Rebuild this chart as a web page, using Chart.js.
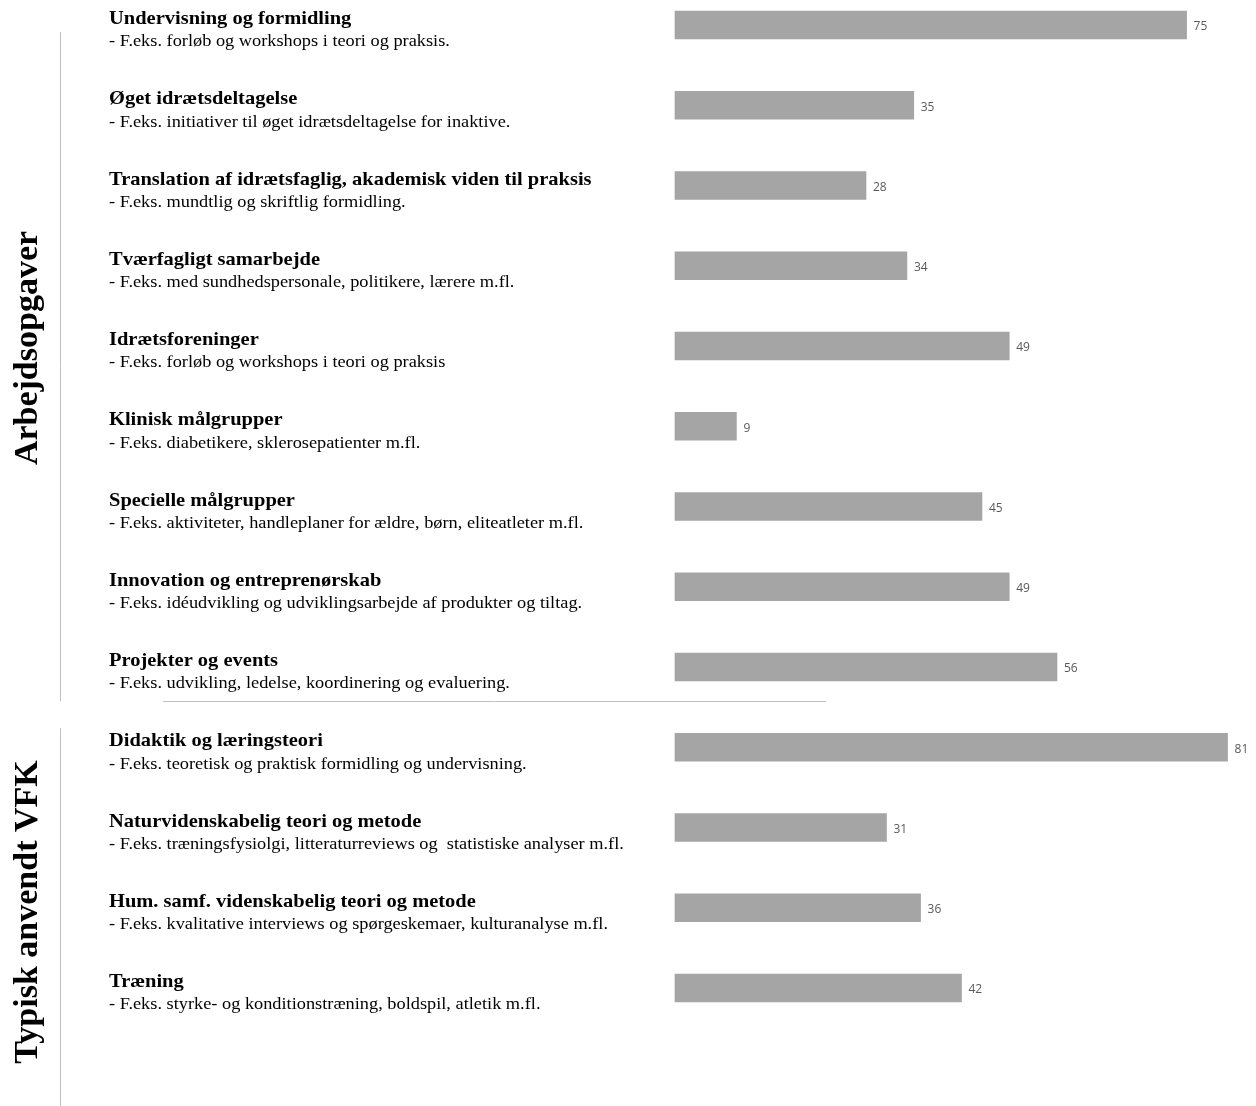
<!DOCTYPE html>
<html>
<head>
<meta charset="utf-8">
<script src="https://cdn.jsdelivr.net/npm/chart.js@4.4.1/dist/chart.umd.min.js"></script>
<style>
  body { margin: 0; background: #fff; }
</style>
</head>
<body>
<canvas id="chart" width="1256" height="1106"></canvas>
<script>
var titles = [
  'Undervisning og formidling',
  'Øget idrætsdeltagelse',
  'Translation af idrætsfaglig, akademisk viden til praksis',
  'Tværfagligt samarbejde',
  'Idrætsforeninger',
  'Klinisk målgrupper',
  'Specielle målgrupper',
  'Innovation og entreprenørskab',
  'Projekter og events',
  'Didaktik og læringsteori',
  'Naturvidenskabelig teori og metode',
  'Hum. samf. videnskabelig teori og metode',
  'Træning'
];
var subtitles = [
  '- F.eks. forløb og workshops i teori og praksis.',
  '- F.eks. initiativer til øget idrætsdeltagelse for inaktive.',
  '- F.eks. mundtlig og skriftlig formidling.',
  '- F.eks. med sundhedspersonale, politikere, lærere m.fl.',
  '- F.eks. forløb og workshops i teori og praksis',
  '- F.eks. diabetikere, sklerosepatienter m.fl.',
  '- F.eks. aktiviteter, handleplaner for ældre, børn, eliteatleter m.fl.',
  '- F.eks. idéudvikling og udviklingsarbejde af produkter og tiltag.',
  '- F.eks. udvikling, ledelse, koordinering og evaluering.',
  '- F.eks. teoretisk og praktisk formidling og undervisning.',
  '- F.eks. træningsfysiolgi, litteraturreviews og  statistiske analyser m.fl.',
  '- F.eks. kvalitative interviews og spørgeskemaer, kulturanalyse m.fl.',
  '- F.eks. styrke- og konditionstræning, boldspil, atletik m.fl.'
];
var counts = [75, 35, 28, 34, 49, 9, 45, 49, 56, 81, 31, 36, 42];
var groups = ['Arbejdsopgaver', 'Typisk anvendt VFK'];
var groupSizes = [9, 4];

// text drawn a bit wider than the font, like the original picture
function wideText(ctx, text, x, y, sx) {
  ctx.save();
  ctx.translate(x, y);
  ctx.scale(sx, 1);
  ctx.fillText(text, 0, 0);
  ctx.restore();
}

// labels, value tags, group names and divider lines
var decorations = {
  id: 'decorations',
  afterDatasetsDraw: function(chart) {
    var ctx = chart.ctx;
    var y = chart.scales.y;
    var meta = chart.getDatasetMeta(0);
    ctx.save();

    titles.forEach(function(t, i) {
      var c = y.getPixelForValue(i);
      ctx.fillStyle = '#000';
      ctx.textAlign = 'left';
      ctx.textBaseline = 'middle';
      ctx.font = 'bold 19.5px "Liberation Serif"';
      wideText(ctx, t, 109, c - 6, 1.05);
      ctx.font = '16.5px "Liberation Serif"';
      wideText(ctx, subtitles[i], 109, c + 17, 1.11);

      var bar = meta.data[i];
      ctx.font = '12px "Open Sans"';
      ctx.fillStyle = '#595959';
      ctx.fillText(String(counts[i]), bar.x + 7, c + 2);
    });

    var last1 = groupSizes[0] - 1;
    var sep = (y.getPixelForValue(last1) + y.getPixelForValue(last1 + 1)) / 2 - 6;
    var top1 = y.getPixelForValue(0) + 7;
    var top2 = sep + 27;
    var bottom = chart.height;

    ctx.strokeStyle = '#bfbfbf';
    ctx.lineWidth = 1;
    ctx.beginPath();
    ctx.moveTo(60.5, top1); ctx.lineTo(60.5, sep);
    ctx.moveTo(60.5, top2); ctx.lineTo(60.5, bottom);
    ctx.moveTo(163, Math.round(sep) + 0.5); ctx.lineTo(826, Math.round(sep) + 0.5);
    ctx.stroke();

    var centers = [
      (y.getPixelForValue(0) + y.getPixelForValue(last1)) / 2 + 2,
      (top2 + bottom) / 2 - 5
    ];
    ctx.fillStyle = '#000';
    ctx.font = 'bold 34px "Liberation Serif"';
    ctx.textAlign = 'center';
    ctx.textBaseline = 'middle';
    groups.forEach(function(g, k) {
      ctx.save();
      ctx.translate(28, centers[k]);
      ctx.rotate(-Math.PI / 2);
      ctx.fillText(g, 0, 0);
      ctx.restore();
    });
    ctx.restore();
  }
};

new Chart(document.getElementById('chart'), {
  type: 'bar',
  data: {
    labels: titles,
    datasets: [{
      data: counts,
      backgroundColor: '#a5a5a5',
      barThickness: 28,
      clip: false
    }]
  },
  options: {
    indexAxis: 'y',
    responsive: false,
    animation: false,
    layout: { padding: { left: 675, right: 8, top: 25, bottom: 118 } },
    plugins: { legend: { display: false }, tooltip: { enabled: false } },
    scales: {
      x: { display: false, min: 0, max: 84 },
      y: { display: false, offset: false }
    }
  },
  plugins: [decorations]
});
</script>
</body>
</html>
